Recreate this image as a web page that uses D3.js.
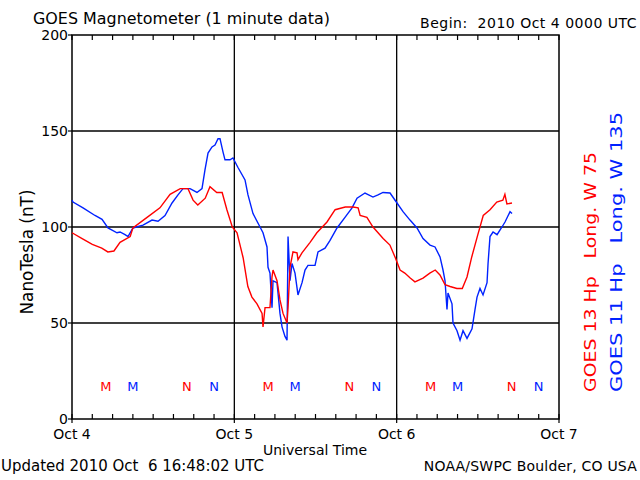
<!DOCTYPE html>
<html><head><meta charset="utf-8">
<script src="https://cdn.jsdelivr.net/npm/d3@7"></script>
<style>body{margin:0;background:#fff}svg{display:block}text{font-family:"DejaVu Sans",sans-serif}</style>
</head><body><svg id="c" width="640" height="480"></svg>
<script>
// Hours since 2010 Oct 4 0000 UTC
const redHours=[0,1.5,3,4.4,5.3,6.2,7.1,8.6,9.0,11.1,13.0,14.5,16.0,17.15,17.9,18.6,19.7,20.4,21.4,22.2,22.9,23.7,24.4,25.3,26.0,26.6,27.35,28.1,28.24,28.54,29.27,29.57,29.72,30.31,30.75,31.2,31.79,31.94,32.23,32.67,33.27,33.41,34.0,35.2,36.2,37.7,38.9,40.4,41.55,42.3,42.6,43.6,44.5,46.0,47.0,47.8,48.5,49.2,50.0,50.7,51.9,52.9,53.7,54.4,55.15,55.9,56.9,57.7,58.4,59.1,60.0,60.8,61.8,62.8,63.7,64.0,64.3,65.05];
const redValues=[97,94,91,89,87,87.5,92,95,99.5,105,110,117,120,120,114,111.5,115,121,118,118,109,100,97,84,69,63.5,60,55,48,58,58,74,77.6,72,62,55,50,58,79,87,86.5,83,86.5,92,97,102.6,109,110.4,110.4,110,106,105,100,94,90.6,84,77.6,76,73.4,71.4,73.4,76,77.6,75,70,69,68,68,74,84.4,96,106,109,113,114,117,112,112.5];
const blueHours=[0,0.15,1.63,3.4,4.44,5.32,6.65,7.1,7.84,8.28,9.02,10.5,11.83,12.72,13.75,14.79,15.67,16.41,17.45,18.48,19.22,19.66,20.11,20.7,21.14,21.59,21.88,22.33,22.62,23.36,23.8,24.54,25.58,26.02,26.76,27.8,28.24,28.83,28.98,29.27,29.57,29.72,30.31,30.75,31.05,31.49,31.79,31.94,32.23,32.53,32.97,33.41,34.01,34.45,34.89,35.93,36.37,37.41,38.15,39.18,40.36,41.4,42.14,43.32,44.5,45.24,45.98,47.02,48.05,48.94,49.97,51.01,51.9,52.93,53.67,54.41,54.85,55.15,55.44,55.59,56.18,56.33,56.92,57.37,57.81,58.4,59.14,59.58,59.88,60.32,60.77,61.36,61.51,61.8,62.25,62.84,63.57,64.02,64.76,65.05];
const blueValues=[114,113,110,106,104,99.5,97,97.4,96,95,99.5,101,103.6,103,106,112.5,116.7,120,120,118,120,129.7,138.5,141.7,142.7,146,146,139,135,135,136,131,124.5,116.7,107,100,97,89.6,79,76,58,72,71,55,48,43,41,95,72,81,76,64.6,71,77.6,80,80,87,89,93,99.5,105,110,115,117.7,115.6,116.7,118,117.7,112.5,108,103.6,99.5,94,90.6,89.6,84.4,77.6,72,57,65.6,60,50,46,41,46,42,47,57,63.5,68,64.6,71,81,95,97.4,96,100,102.6,108,107];
const redMarkerHours=[5,17,29,41,53,65];
const redMarkerLabels=["M","N","M","N","M","N"];
const blueMarkerHours=[9,21,33,45,57,69];
const blueMarkerLabels=["M","N","M","N","M","N"];
const yTicks=[0,50,100,150,200];
const dayTicks=[0,24,48,72];
const dayLabels=["Oct 4","Oct 5","Oct 6","Oct 7"];
const minorTicks=d3.range(0,73,3);

const svg=d3.select("#c");
const x=d3.scaleLinear().domain([0,72]).range([72,559]);
const y=d3.scaleLinear().domain([0,200]).range([419,35]);
const RED="#ff0000", BLUE="#0022ff";

// grid
svg.append("g").selectAll("line").data([50,100,150]).join("line")
 .attr("x1",x(0)).attr("x2",x(72)).attr("y1",d=>y(d)).attr("y2",d=>y(d)).attr("stroke","#000").attr("stroke-width",1.3);
svg.append("g").selectAll("line").data([24,48]).join("line")
 .attr("x1",d=>x(d)).attr("x2",d=>x(d)).attr("y1",y(0)).attr("y2",y(200)).attr("stroke","#000").attr("stroke-width",1.3);

// minor ticks top and bottom (inward)
svg.append("g").selectAll("line").data(minorTicks).join("line")
 .attr("x1",d=>x(d)).attr("x2",d=>x(d)).attr("y1",y(0)).attr("y2",y(0)-5).attr("stroke","#000").attr("stroke-width",1.2);
svg.append("g").selectAll("line").data(minorTicks).join("line")
 .attr("x1",d=>x(d)).attr("x2",d=>x(d)).attr("y1",y(200)).attr("y2",y(200)+5).attr("stroke","#000").attr("stroke-width",1.2);
svg.append("g").selectAll("line").data(dayTicks).join("line")
 .attr("x1",d=>x(d)).attr("x2",d=>x(d)).attr("y1",y(0)).attr("y2",y(0)+4).attr("stroke","#000").attr("stroke-width",1.2);

// y axis ticks and labels
const ya=svg.append("g");
ya.selectAll("line").data(yTicks).join("line")
 .attr("x1",x(0)-4).attr("x2",x(0)).attr("y1",d=>y(d)).attr("y2",d=>y(d)).attr("stroke","#000").attr("stroke-width",1.2);
ya.selectAll("text").data(yTicks).join("text")
 .attr("x",x(0)-4).attr("y",d=>y(d)+5).attr("text-anchor","end").attr("font-size",14).text(d=>d);

// frame
svg.append("rect").attr("x",x(0)).attr("y",y(200)).attr("width",x(72)-x(0)).attr("height",y(0)-y(200))
 .attr("fill","none").attr("stroke","#000").attr("stroke-width",1.5);

// lines
const line=(hs)=>d3.line().x((v,i)=>x(hs[i])).y(v=>y(v));
svg.append("path").datum(blueValues).attr("d",line(blueHours)).attr("fill","none").attr("stroke",BLUE).attr("stroke-width",1.4);
svg.append("path").datum(redValues).attr("d",line(redHours)).attr("fill","none").attr("stroke",RED).attr("stroke-width",1.4);

// markers
svg.append("g").selectAll("text").data(redMarkerHours).join("text")
 .attr("x",d=>x(d)).attr("y",391).attr("text-anchor","middle").attr("font-size",13).attr("fill",RED).text((d,i)=>redMarkerLabels[i]);
svg.append("g").selectAll("text").data(blueMarkerHours).join("text")
 .attr("x",d=>x(d)).attr("y",391).attr("text-anchor","middle").attr("font-size",13).attr("fill",BLUE).text((d,i)=>blueMarkerLabels[i]);

// x labels
svg.append("g").selectAll("text").data(dayTicks).join("text")
 .attr("x",d=>x(d)).attr("y",439).attr("text-anchor","middle").attr("font-size",14).text((d,i)=>dayLabels[i]);
svg.append("text").attr("x",315).attr("y",455).attr("text-anchor","middle").attr("font-size",14).text("Universal Time");

// titles
svg.append("text").attr("x",33).attr("y",24).attr("font-size",16).attr("textLength",297).attr("lengthAdjust","spacingAndGlyphs").text("GOES Magnetometer (1 minute data)");
svg.append("text").attr("x",637).attr("y",28).attr("text-anchor","end").attr("font-size",14).attr("letter-spacing",0.5).style("white-space","pre").text("Begin:  2010 Oct 4 0000 UTC");
svg.append("text").attr("x",1).attr("y",471).attr("font-size",15).attr("textLength",263).attr("lengthAdjust","spacingAndGlyphs").style("white-space","pre").text("Updated 2010 Oct  6 16:48:02 UTC");
svg.append("text").attr("x",637).attr("y",471).attr("text-anchor","end").attr("font-size",14).attr("letter-spacing",0.2).text("NOAA/SWPC Boulder, CO USA");

// y title
svg.append("text").attr("transform","translate(33,252) rotate(-90)").attr("text-anchor","middle").attr("font-size",18).attr("textLength",125).attr("lengthAdjust","spacingAndGlyphs").text("NanoTesla (nT)");

// right labels
svg.append("text").attr("transform","translate(596,392) rotate(-90)").attr("font-size",16).attr("fill",RED).attr("textLength",240).attr("lengthAdjust","spacingAndGlyphs").style("white-space","pre").text("GOES 13 Hp   Long. W 75");
svg.append("text").attr("transform","translate(622,392) rotate(-90)").attr("font-size",16).attr("fill",BLUE).attr("textLength",280).attr("lengthAdjust","spacingAndGlyphs").style("white-space","pre").text("GOES 11 Hp   Long. W 135");
</script></body></html>
